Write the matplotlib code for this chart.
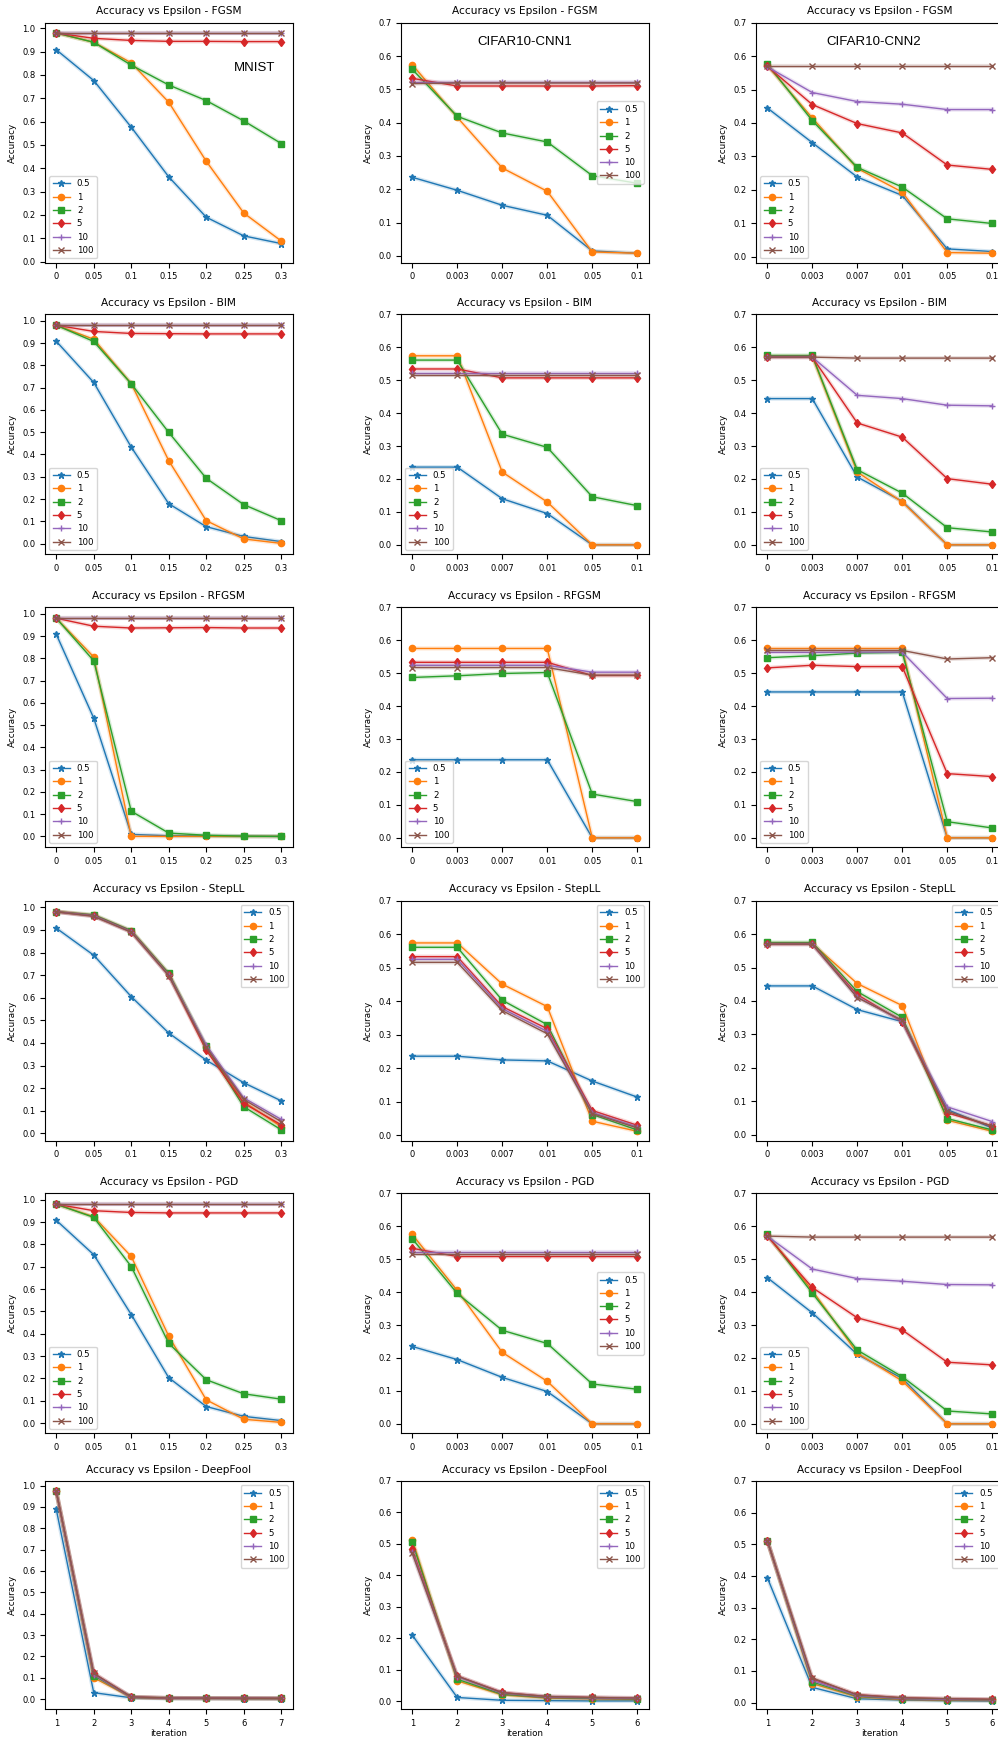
import numpy as np
from matplotlib import pyplot as plt

# accuracy vs epsilon, one curve per confidence value
labels = ['0.5', '1', '2', '5', '10', '100']
markers = ['*', 'o', 's', 'd', '+', 'x']
attacks = ['FGSM', 'BIM', 'RFGSM', 'StepLL', 'PGD', 'DeepFool']

eps_mnist = ['0', '0.05', '0.1', '0.15', '0.2', '0.25', '0.3']
eps_cifar = ['0', '0.003', '0.007', '0.01', '0.05', '0.1']
iter_mnist = ['1', '2', '3', '4', '5', '6', '7']
iter_cifar = ['1', '2', '3', '4', '5', '6']

# ---- MNIST ----
mnist_fgsm = [
    [0.908, 0.776, 0.576, 0.363, 0.190, 0.110, 0.077],
    [0.980, 0.940, 0.852, 0.683, 0.430, 0.208, 0.088],
    [0.980, 0.940, 0.842, 0.757, 0.690, 0.603, 0.506],
    [0.980, 0.957, 0.948, 0.944, 0.944, 0.943, 0.943],
    [0.980, 0.980, 0.980, 0.980, 0.980, 0.980, 0.980],
    [0.980, 0.980, 0.980, 0.980, 0.980, 0.980, 0.980],
]
mnist_bim = [
    [0.908, 0.723, 0.433, 0.179, 0.076, 0.032, 0.009],
    [0.980, 0.917, 0.718, 0.372, 0.103, 0.021, 0.001],
    [0.980, 0.907, 0.717, 0.499, 0.293, 0.175, 0.103],
    [0.980, 0.952, 0.943, 0.942, 0.941, 0.941, 0.941],
    [0.980, 0.980, 0.980, 0.980, 0.980, 0.980, 0.980],
    [0.980, 0.980, 0.980, 0.980, 0.980, 0.980, 0.980],
]
mnist_rfgsm = [
    [0.908, 0.531, 0.009, 0.003, 0.002, 0.001, 0.000],
    [0.980, 0.806, 0.000, 0.000, 0.000, 0.000, 0.000],
    [0.980, 0.789, 0.113, 0.015, 0.005, 0.001, 0.000],
    [0.980, 0.944, 0.936, 0.937, 0.938, 0.936, 0.936],
    [0.979, 0.979, 0.979, 0.979, 0.979, 0.979, 0.979],
    [0.979, 0.979, 0.979, 0.979, 0.979, 0.979, 0.979],
]
mnist_stepll = [
    [0.908, 0.788, 0.605, 0.444, 0.324, 0.224, 0.144],
    [0.981, 0.965, 0.895, 0.706, 0.380, 0.140, 0.030],
    [0.981, 0.967, 0.897, 0.708, 0.385, 0.118, 0.016],
    [0.980, 0.962, 0.892, 0.700, 0.368, 0.133, 0.038],
    [0.980, 0.962, 0.892, 0.700, 0.390, 0.157, 0.062],
    [0.980, 0.960, 0.890, 0.698, 0.380, 0.150, 0.052],
]
mnist_pgd = [
    [0.908, 0.754, 0.486, 0.203, 0.074, 0.030, 0.011],
    [0.980, 0.924, 0.746, 0.389, 0.104, 0.017, 0.003],
    [0.980, 0.921, 0.701, 0.357, 0.194, 0.131, 0.107],
    [0.980, 0.951, 0.943, 0.941, 0.941, 0.941, 0.941],
    [0.980, 0.980, 0.980, 0.980, 0.980, 0.980, 0.980],
    [0.980, 0.980, 0.980, 0.980, 0.980, 0.980, 0.980],
]
mnist_deepfool = [
    [0.889, 0.030, 0.006, 0.003, 0.003, 0.002, 0.002],
    [0.973, 0.100, 0.008, 0.004, 0.004, 0.003, 0.003],
    [0.973, 0.110, 0.009, 0.004, 0.004, 0.003, 0.003],
    [0.973, 0.120, 0.010, 0.005, 0.004, 0.004, 0.003],
    [0.973, 0.115, 0.009, 0.005, 0.004, 0.004, 0.003],
    [0.973, 0.120, 0.010, 0.005, 0.004, 0.004, 0.003],
]

# ---- CIFAR10-CNN1 ----
cnn1_fgsm = [
    [0.236, 0.197, 0.152, 0.122, 0.015, 0.008],
    [0.574, 0.416, 0.264, 0.194, 0.012, 0.008],
    [0.560, 0.419, 0.369, 0.342, 0.241, 0.218],
    [0.533, 0.510, 0.510, 0.510, 0.510, 0.511],
    [0.523, 0.523, 0.523, 0.523, 0.523, 0.523],
    [0.517, 0.519, 0.519, 0.519, 0.519, 0.519],
]
cnn1_bim = [
    [0.236, 0.236, 0.140, 0.095, 0.000, 0.000],
    [0.574, 0.574, 0.221, 0.130, 0.000, 0.000],
    [0.561, 0.561, 0.336, 0.296, 0.146, 0.119],
    [0.534, 0.534, 0.507, 0.507, 0.507, 0.507],
    [0.522, 0.522, 0.522, 0.522, 0.522, 0.522],
    [0.516, 0.516, 0.516, 0.516, 0.516, 0.516],
]
cnn1_rfgsm = [
    [0.237, 0.237, 0.237, 0.237, 0.000, 0.000],
    [0.575, 0.575, 0.575, 0.575, 0.000, 0.000],
    [0.487, 0.492, 0.499, 0.502, 0.133, 0.110],
    [0.533, 0.533, 0.533, 0.533, 0.493, 0.493],
    [0.524, 0.524, 0.524, 0.524, 0.503, 0.503],
    [0.517, 0.517, 0.517, 0.517, 0.494, 0.494],
]
cnn1_stepll = [
    [0.236, 0.236, 0.225, 0.222, 0.162, 0.114],
    [0.574, 0.574, 0.451, 0.384, 0.042, 0.012],
    [0.561, 0.561, 0.403, 0.330, 0.062, 0.016],
    [0.533, 0.533, 0.384, 0.318, 0.074, 0.030],
    [0.525, 0.525, 0.378, 0.310, 0.068, 0.025],
    [0.516, 0.516, 0.372, 0.303, 0.065, 0.022],
]
cnn1_pgd = [
    [0.235, 0.195, 0.141, 0.098, 0.000, 0.000],
    [0.575, 0.405, 0.217, 0.129, 0.000, 0.000],
    [0.562, 0.396, 0.284, 0.244, 0.121, 0.105],
    [0.533, 0.508, 0.508, 0.508, 0.508, 0.508],
    [0.523, 0.523, 0.523, 0.523, 0.523, 0.523],
    [0.516, 0.516, 0.516, 0.516, 0.516, 0.516],
]
cnn1_deepfool = [
    [0.210, 0.012, 0.003, 0.002, 0.001, 0.001],
    [0.514, 0.065, 0.020, 0.010, 0.008, 0.006],
    [0.505, 0.070, 0.022, 0.012, 0.009, 0.007],
    [0.483, 0.080, 0.028, 0.015, 0.012, 0.010],
    [0.475, 0.078, 0.026, 0.014, 0.011, 0.009],
    [0.470, 0.080, 0.027, 0.015, 0.012, 0.010],
]

# ---- CIFAR10-CNN2 ----
cnn2_fgsm = [
    [0.445, 0.341, 0.238, 0.183, 0.023, 0.015],
    [0.572, 0.415, 0.264, 0.193, 0.012, 0.010],
    [0.577, 0.407, 0.267, 0.208, 0.113, 0.099],
    [0.570, 0.455, 0.398, 0.370, 0.274, 0.261],
    [0.568, 0.491, 0.464, 0.456, 0.440, 0.440],
    [0.569, 0.569, 0.569, 0.569, 0.569, 0.569],
]
cnn2_bim = [
    [0.444, 0.444, 0.206, 0.132, 0.000, 0.000],
    [0.572, 0.572, 0.221, 0.130, 0.000, 0.000],
    [0.575, 0.575, 0.228, 0.157, 0.052, 0.039],
    [0.570, 0.570, 0.370, 0.327, 0.201, 0.184],
    [0.570, 0.570, 0.454, 0.444, 0.424, 0.422],
    [0.570, 0.570, 0.567, 0.567, 0.567, 0.567],
]
cnn2_rfgsm = [
    [0.443, 0.443, 0.443, 0.443, 0.000, 0.000],
    [0.575, 0.575, 0.575, 0.575, 0.000, 0.000],
    [0.547, 0.553, 0.561, 0.563, 0.049, 0.030],
    [0.516, 0.524, 0.520, 0.520, 0.195, 0.186],
    [0.563, 0.563, 0.564, 0.564, 0.423, 0.424],
    [0.569, 0.569, 0.569, 0.569, 0.543, 0.547],
]
cnn2_stepll = [
    [0.445, 0.445, 0.374, 0.338, 0.075, 0.020],
    [0.572, 0.572, 0.452, 0.386, 0.043, 0.010],
    [0.575, 0.575, 0.428, 0.351, 0.048, 0.014],
    [0.570, 0.570, 0.419, 0.338, 0.065, 0.026],
    [0.570, 0.570, 0.412, 0.340, 0.083, 0.039],
    [0.570, 0.570, 0.410, 0.342, 0.070, 0.025],
]
cnn2_pgd = [
    [0.444, 0.337, 0.211, 0.138, 0.000, 0.000],
    [0.573, 0.405, 0.215, 0.130, 0.000, 0.000],
    [0.575, 0.397, 0.224, 0.143, 0.039, 0.030],
    [0.570, 0.414, 0.322, 0.285, 0.187, 0.179],
    [0.570, 0.470, 0.441, 0.433, 0.423, 0.422],
    [0.570, 0.567, 0.567, 0.567, 0.567, 0.567],
]
cnn2_deepfool = [
    [0.395, 0.048, 0.012, 0.008, 0.006, 0.005],
    [0.512, 0.060, 0.018, 0.010, 0.008, 0.007],
    [0.512, 0.065, 0.020, 0.012, 0.009, 0.008],
    [0.512, 0.075, 0.025, 0.015, 0.012, 0.010],
    [0.512, 0.070, 0.022, 0.013, 0.010, 0.009],
    [0.512, 0.078, 0.024, 0.015, 0.012, 0.010],
]

grid = [
    [mnist_fgsm, cnn1_fgsm, cnn2_fgsm],
    [mnist_bim, cnn1_bim, cnn2_bim],
    [mnist_rfgsm, cnn1_rfgsm, cnn2_rfgsm],
    [mnist_stepll, cnn1_stepll, cnn2_stepll],
    [mnist_pgd, cnn1_pgd, cnn2_pgd],
    [mnist_deepfool, cnn1_deepfool, cnn2_deepfool],
]
legend_loc = [
    ['lower left', 'center right', 'lower left'],
    ['lower left', 'lower left', 'lower left'],
    ['lower left', 'lower left', 'lower left'],
    ['upper right', 'upper right', 'upper right'],
    ['lower left', 'center right', 'lower left'],
    ['upper right', 'upper right', 'upper right'],
]

plt.rcParams['font.size'] = 6.3
plt.rcParams['xtick.labelsize'] = 6
plt.rcParams['ytick.labelsize'] = 6
plt.rcParams['axes.titlesize'] = 7.6
plt.rcParams['legend.fontsize'] = 6.2

W, H = 998, 1752
fig = plt.figure(figsize=(W / 100, H / 100), dpi=100)

col_left = [45, 401, 756]
row_top = [22.7, 314.3, 607.3, 900.7, 1193.3, 1481]
row_h = [240, 240, 240, 240, 240, 228]
aw = 247.5

for r in range(6):
    ah = row_h[r]
    for c in range(3):
        ax = fig.add_axes([col_left[c] / W, (H - row_top[r] - ah) / H, aw / W, ah / H])
        if r == 5:
            xt = iter_mnist if c == 0 else iter_cifar
        else:
            xt = eps_mnist if c == 0 else eps_cifar
        x = np.arange(len(xt))
        for i, ys in enumerate(grid[r][c]):
            col = 'C%d' % i
            ax.plot(x, ys, color=col, lw=3, alpha=0.18)
            ax.plot(x, ys, color=col, lw=1.0, marker=markers[i], ms=4.5,
                    mew=1.0, label=labels[i])
        ax.set_xticks(x)
        ax.set_xticklabels(xt)
        ax.set_title('Accuracy vs Epsilon - ' + attacks[r])
        ax.set_ylabel('Accuracy')
        if c == 0:
            ax.set_yticks(np.arange(0, 1.01, 0.1))
            if r == 0:
                ax.set_ylim(-0.005, 1.024)
        else:
            ax.set_yticks(np.arange(0, 0.71, 0.1))
            ax.set_ylim(top=0.7)
        ax.yaxis.set_major_formatter(plt.FormatStrFormatter('%.1f'))
        if r == 5:
            ax.set_xlabel('iteration', labelpad=1)
        ax.legend(loc=legend_loc[r][c])
        if r == 0:
            if c == 0:
                ax.text(5.3, 0.83, 'MNIST', fontsize=9.5, family='Liberation Sans',
                        ha='center', va='center')
            elif c == 1:
                ax.text(2.49, 0.643, 'CIFAR10-CNN1', fontsize=9.5,
                        family='Liberation Sans', ha='center', va='center')
            else:
                ax.text(2.36, 0.643, 'CIFAR10-CNN2', fontsize=9.5,
                        family='Liberation Sans', ha='center', va='center')

plt.savefig('out.png', dpi=100)
